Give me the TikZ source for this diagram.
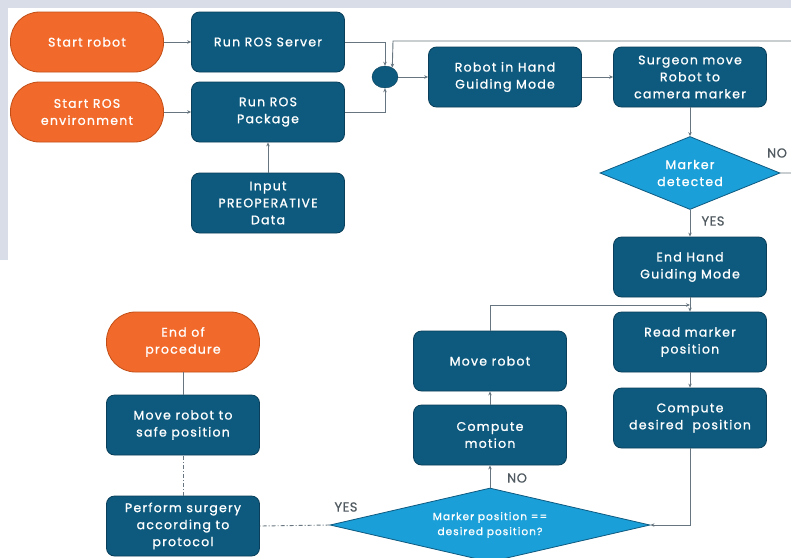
\documentclass[tikz,border=0pt]{standalone}
\usepackage{fontspec}
\setmainfont{Poppins}
\newfontfamily\boxfont[LetterSpace=10,FakeBold=1]{Poppins}
\newfontfamily\lblfont[LetterSpace=4,FakeBold=0.6]{Poppins}
\usetikzlibrary{shapes.geometric,arrows.meta}
\definecolor{bx}{HTML}{0D5A7E}
\definecolor{bxd}{HTML}{093F5A}
\definecolor{orf}{HTML}{F26A2B}
\definecolor{ord}{HTML}{C24E16}
\definecolor{dcf}{HTML}{1A9FD8}
\definecolor{dcd}{HTML}{0E5A80}
\definecolor{ln}{HTML}{66757F}
\definecolor{lbc}{HTML}{505A60}
\definecolor{bgc}{HTML}{D9DDE8}
\tikzset{
  base/.style={text=white, align=center, inner sep=2pt, font=\boxfont\fontsize{12.5}{17}\selectfont},
  proc/.style={base, draw=bxd, fill=bx, rounded corners=8pt, minimum width=153pt, minimum height=60pt, line width=0.8pt},
  term/.style={base, draw=ord, fill=orf, rounded corners=29pt, minimum width=153pt, minimum height=60pt, line width=0.8pt},
  dec/.style={base, diamond, draw=dcd, fill=dcf, inner sep=0pt, line width=0.8pt},
  conn/.style={draw=ln, line width=0.9pt, -{Stealth[length=4pt,width=3.5pt]}},
  plain/.style={draw=ln, line width=0.9pt},
  dconn/.style={draw=ln, line width=0.9pt, dash pattern=on 4pt off 2pt on 1pt off 2pt},
  lbl/.style={text=lbc, font=\lblfont\fontsize{13}{15}\selectfont, inner sep=1pt}
}
\begin{document}
\begin{tikzpicture}[x=1pt,y=-1pt]
\useasboundingbox (0,0) rectangle (791,557);
\fill[white] (0,0) rectangle (791,557);
\fill[bgc] (0,0) rectangle (791,8);
\fill[bgc] (0,0) rectangle (8,260);

% nodes
\node[term] (sr) at (87,42) {Start robot};
\node[term] (se) at (87,112) {Start ROS\\environment};
\node[proc] (rs) at (268,42) {Run ROS Server};
\node[proc] (rp) at (268,112) {Run ROS\\Package};
\node[proc] (inp) at (268,203) {Input\\PREOPERATIVE\\Data};
\node[ellipse, draw=bxd, fill=bx, minimum width=26pt, minimum height=22pt, inner sep=0pt] (j) at (385,77) {};
\node[proc] (hg) at (505,77) {Robot in Hand\\Guiding Mode};
\node[proc] (sm) at (690,77) {Surgeon move\\Robot to\\camera marker};
\node[dec, shape aspect=2.47, minimum width=180pt, minimum height=73pt] (md) at (690,173) {Marker\\detected};
\node[proc] (eh) at (690,267) {End Hand\\Guiding Mode};
\node[proc] (rm) at (690,342) {Read marker\\position};
\node[proc] (cd) at (690,418) {Compute\\desired\ \ position};
\node[proc] (mr) at (490,361) {Move robot};
\node[proc] (cm) at (490,435) {Compute\\motion};
\node[dec, shape aspect=4.3, minimum width=320pt, minimum height=74pt, font=\boxfont\fontsize{10.5}{15}\selectfont] (md2) at (490,525) {Marker position ==\\desired position?};
\node[term] (ep) at (183,342) {End of\\procedure};
\node[proc] (msp) at (183,425) {Move robot to\\safe position};
\node[proc] (ps) at (183,526) {Perform surgery\\according to\\protocol};

\coordinate (lt) at (393,41);
\coordinate (mj) at (690,305);

% connectors
\draw[conn] (sr) -- (rs);
\draw[conn] (se) -- (rp);
\draw[conn] (inp) -- (rp);
\draw[conn] (rs.east) -| (j.north);
\draw[conn] (rp.east) -| (j.south);
\draw[conn] (j) -- (hg);
\draw[conn] (hg) -- (sm);
\draw[conn] (sm) -- (md);
\draw[conn] (md.east) -- ++(30,0) |- (lt) -- (j.52);
\node[lbl] (no1) at (777,153) {NO};
\draw[conn] (md.south) -- (eh.north);
\node[lbl] (yes1) at (713,221) {YES};
\draw[conn] (eh) -- (rm);
\draw[conn] (mr.north) |- (mj);
\draw[conn] (rm) -- (cd);
\draw[conn] (cd.south) |- (md2.east);
\draw[conn] (md2.north) -- (cm.south);
\node[lbl] (no2) at (517,478) {NO};
\draw[conn] (cm) -- (mr);
\draw[dconn] (md2.west) -- (ps.east);
\node[lbl] (yes2) at (346,507) {YES};
\draw[dconn] (ps.north) -- (msp.south);
\draw[plain] (msp.north) -- (ep.south);
\end{tikzpicture}
\end{document}
